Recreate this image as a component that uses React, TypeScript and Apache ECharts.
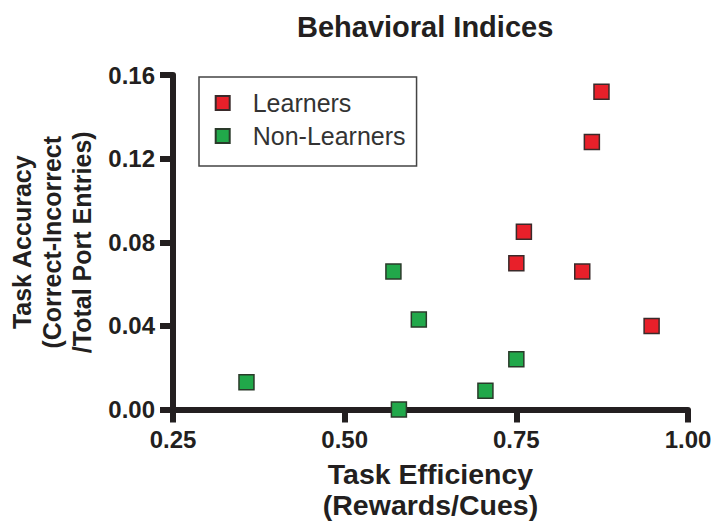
import React, { useEffect, useRef } from "react";
import * as echarts from "echarts";

const titleText = "Behavioral Indices";
const seriesNames = ["Learners", "Non-Learners"];
const learnersX = [0.874, 0.86, 0.761, 0.75, 0.846, 0.947];
const learnersY = [0.152, 0.128, 0.085, 0.07, 0.066, 0.04];
const nonLearnersX = [0.357, 0.571, 0.608, 0.579, 0.705, 0.75];
const nonLearnersY = [0.013, 0.066, 0.043, 0.0, 0.009, 0.024];
const xTicks = [0.25, 0.5, 0.75, 1.0];
const yTicks = [0.0, 0.04, 0.08, 0.12, 0.16];
const xAxisTitle = "Task Efficiency\n(Rewards/Cues)";
const yAxisTitle = "Task Accuracy\n(Correct-Incorrect\n/Total Port Entries)";

const FONT = "'Liberation Sans', Arial, sans-serif";
const INK = "#231f20";

export default function App() {
  const ref = useRef<HTMLDivElement>(null);
  useEffect(() => {
    if (!ref.current) return;
    const chart = echarts.init(ref.current, null, { renderer: "svg" });
    const pair = (xs: number[], ys: number[]) => xs.map((x, i) => [x, ys[i]]);
    chart.setOption({
      animation: false,
      backgroundColor: "#ffffff",
      title: {
        text: titleText,
        left: 297,
        top: 12,
        padding: 0,
        textStyle: { fontFamily: FONT, fontSize: 29, fontWeight: "bold", color: INK, lineHeight: 29 },
      },
      legend: {
        orient: "vertical",
        left: 199,
        top: 77,
        padding: [13.5, 11, 17.5, 15.7],
        itemGap: 8,
        itemWidth: 14,
        itemHeight: 14,
        borderColor: "#444",
        borderWidth: 1.5,
        data: seriesNames,
        textStyle: { fontFamily: FONT, fontSize: 25, color: "#333", lineHeight: 25, padding: [0, 0, 0, 18] },
      },
      grid: { left: 173, right: 28, top: 75, bottom: 111.5, outerBoundsMode: "none", containLabel: false },
      xAxis: {
        type: "value",
        min: xTicks[0],
        max: xTicks[xTicks.length - 1],
        interval: 0.25,
        name: xAxisTitle,
        nameLocation: "middle",
        nameGap: 49,
        nameTextStyle: { fontFamily: FONT, fontSize: 28.5, fontWeight: "bold", color: INK, lineHeight: 31 },
        axisLine: { show: true, lineStyle: { color: INK, width: 6 } },
        axisTick: { show: true, length: 13, lineStyle: { color: INK, width: 6 } },
        axisLabel: {
          margin: 18,
          fontFamily: FONT,
          fontSize: 24,
          fontWeight: "bold",
          color: INK,
          lineHeight: 24,
          formatter: (v: number) => v.toFixed(2),
        },
        splitLine: { show: false },
      },
      yAxis: {
        type: "value",
        min: yTicks[0],
        max: yTicks[yTicks.length - 1],
        interval: 0.04,
        name: yAxisTitle,
        nameLocation: "middle",
        nameGap: 73,
        nameTextStyle: { fontFamily: FONT, fontSize: 25, fontWeight: "bold", color: INK, lineHeight: 30 },
        axisLine: { show: true, lineStyle: { color: INK, width: 6 } },
        axisTick: { show: true, length: 13, lineStyle: { color: INK, width: 6 } },
        axisLabel: {
          margin: 18,
          fontFamily: FONT,
          fontSize: 24,
          fontWeight: "bold",
          color: INK,
          formatter: (v: number) => v.toFixed(2),
        },
        splitLine: { show: false },
      },
      series: [
        {
          name: seriesNames[0],
          type: "scatter",
          symbol: "rect",
          symbolSize: 15,
          data: pair(learnersX, learnersY),
          itemStyle: { color: "#e8202a", borderColor: "#3a2a2a", borderWidth: 1.5, opacity: 1 },
        },
        {
          name: seriesNames[1],
          type: "scatter",
          symbol: "rect",
          symbolSize: 15,
          data: pair(nonLearnersX, nonLearnersY),
          itemStyle: { color: "#21a84a", borderColor: "#2a3a2a", borderWidth: 1.5, opacity: 1 },
        },
      ],
    });
    return () => chart.dispose();
  }, []);
  return (
    <div
      ref={ref}
      style={{ position: "fixed", left: 0, top: 0, width: 716, height: 521 }}
    />
  );
}
